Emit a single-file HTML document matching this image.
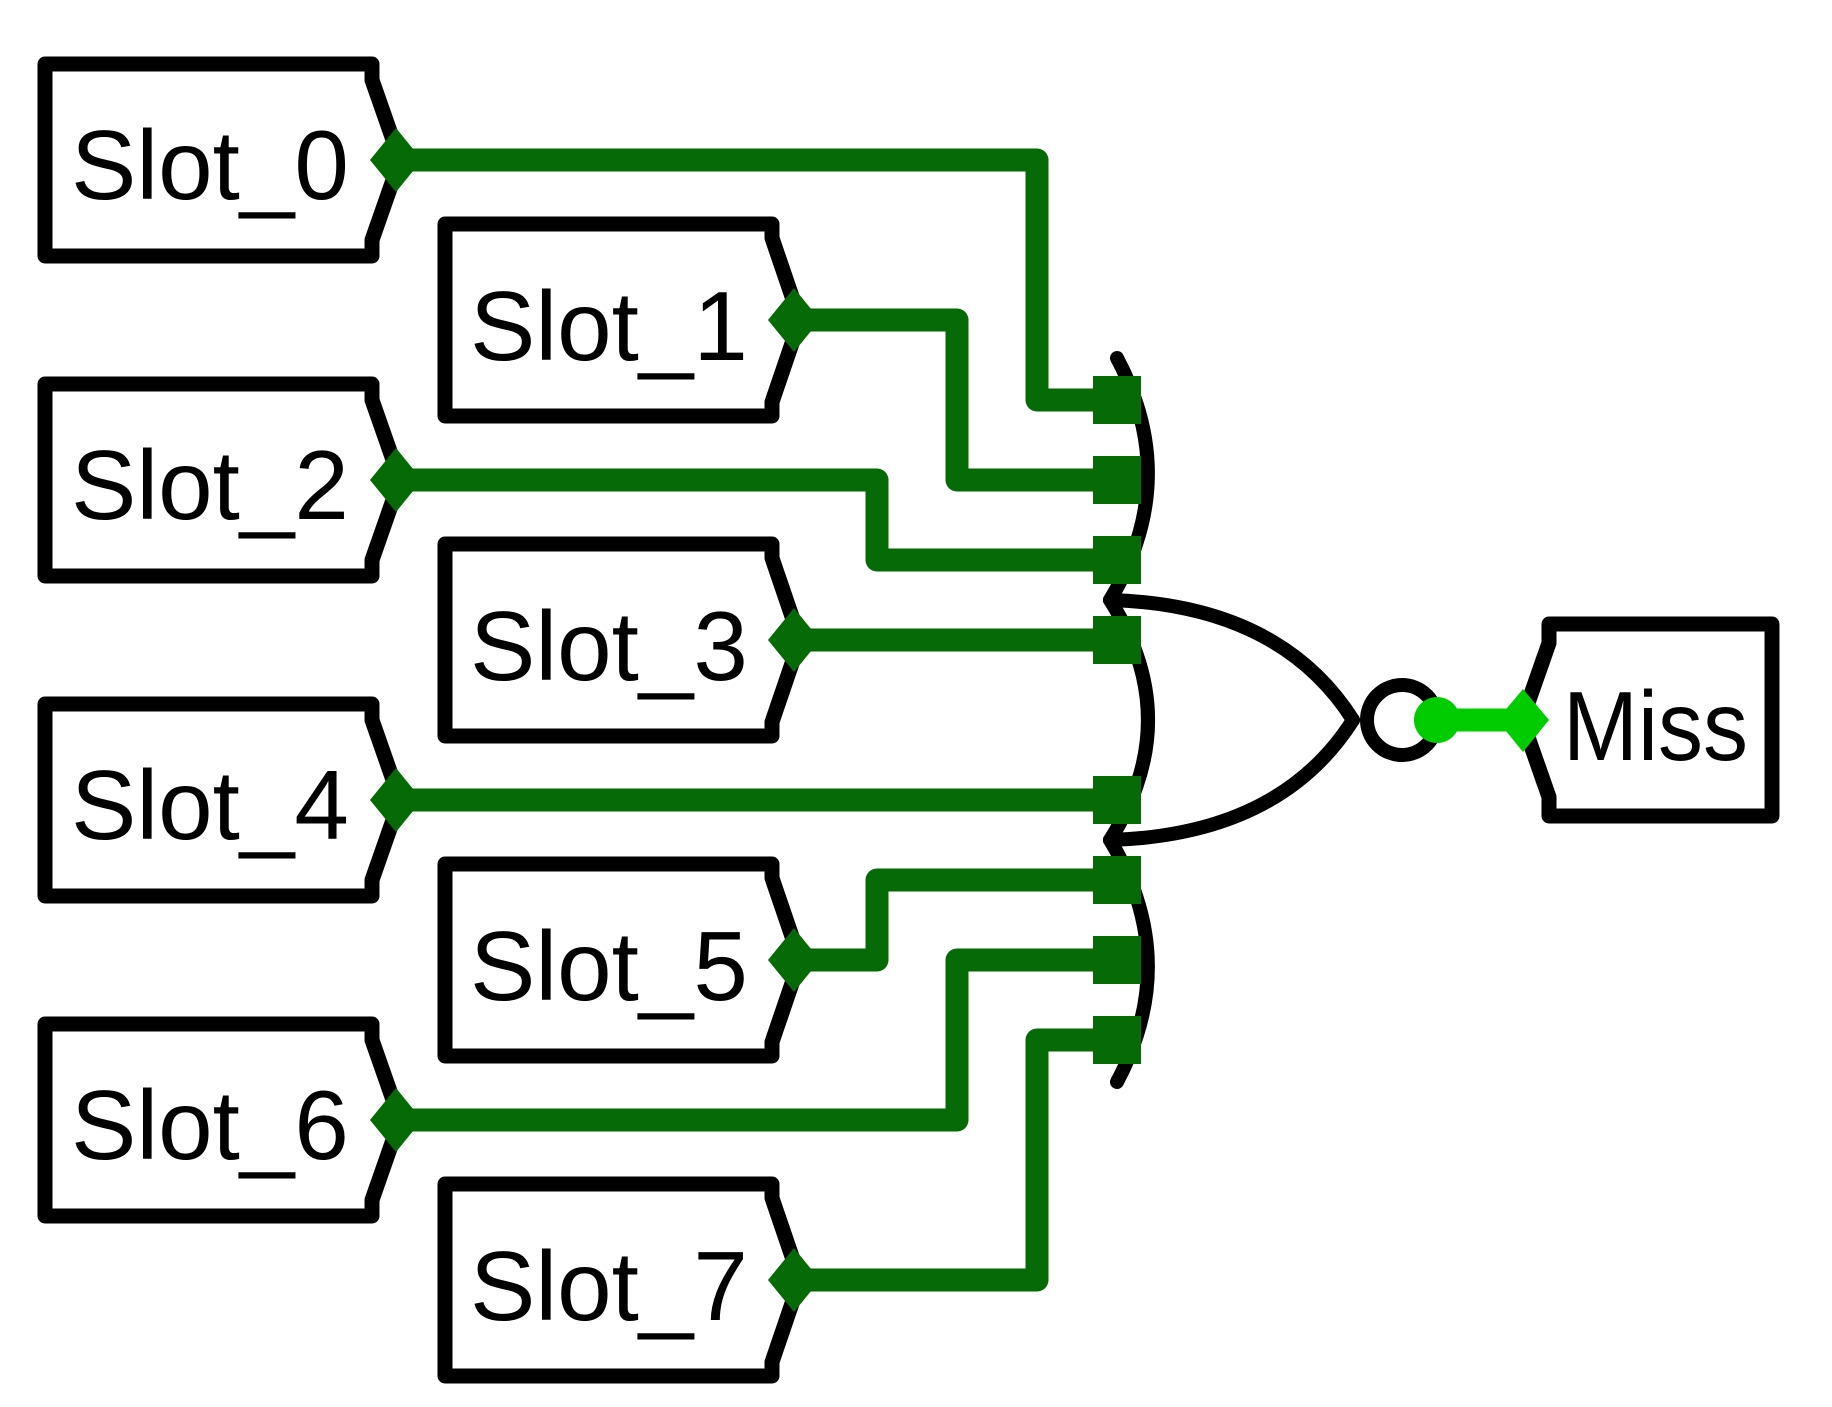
<!DOCTYPE html>
<html><head><meta charset="utf-8"><style>
html,body{margin:0;padding:0;background:#fff;}
svg{display:block;}
text{font-family:"Liberation Sans","DejaVu Sans",sans-serif;font-size:98px;fill:#000;}
</style></head><body>
<svg width="1832" height="1407" viewBox="0 0 1832 1407" xmlns="http://www.w3.org/2000/svg">
<g fill="none" stroke="#066a06" stroke-width="23" stroke-linejoin="round">
<polyline points="396,160 1037,160 1037,400 1100,400"/>
<polyline points="794,320 957,320 957,480 1100,480"/>
<polyline points="396,480 877,480 877,560 1100,560"/>
<polyline points="794,640 1100,640"/>
<polyline points="396,800 1100,800"/>
<polyline points="794,960 877,960 877,880 1100,880"/>
<polyline points="396,1120 957,1120 957,960 1100,960"/>
<polyline points="794,1280 1037,1280 1037,1040 1100,1040"/>
</g>
<g fill="none" stroke="#000" stroke-width="14" stroke-linecap="round" stroke-linejoin="round">
<path d="M1117,358 Q1182,480 1110,600"/>
<path d="M1110,600 Q1186,720 1110,840"/>
<path d="M1110,840 Q1182,960 1117,1082"/>
<path d="M1110,600 Q1280,605 1353,720"/>
<path d="M1110,840 Q1280,835 1353,720"/>
<circle cx="1402" cy="720" r="35"/>
</g>
<g fill="#066a06">
<rect x="1093" y="376" width="48" height="48"/><rect x="1093" y="456" width="48" height="48"/>
<rect x="1093" y="536" width="48" height="48"/><rect x="1093" y="616" width="48" height="48"/>
<rect x="1093" y="776" width="48" height="48"/><rect x="1093" y="856" width="48" height="48"/>
<rect x="1093" y="936" width="48" height="48"/><rect x="1093" y="1016" width="48" height="48"/>
</g>
<g>
<line x1="1437" y1="720" x2="1517" y2="720" stroke="#00cc00" stroke-width="23"/>
<circle cx="1437" cy="720" r="23" fill="#00cc00"/>
</g>
<g fill="none" stroke="#000" stroke-width="15" stroke-linejoin="round">
<path d="M45,64 H372 V80 L400,160 L372,240 V256 H45 Z"/>
<path d="M45,384 H372 V400 L400,480 L372,560 V576 H45 Z"/>
<path d="M45,704 H372 V720 L400,800 L372,880 V896 H45 Z"/>
<path d="M45,1024 H372 V1040 L400,1120 L372,1200 V1216 H45 Z"/>
<path d="M445,224 H772 V238 L800,320 L772,402 V416 H445 Z"/>
<path d="M445,544 H772 V558 L800,640 L772,722 V736 H445 Z"/>
<path d="M445,864 H772 V878 L800,960 L772,1042 V1056 H445 Z"/>
<path d="M445,1184 H772 V1198 L800,1280 L772,1362 V1376 H445 Z"/>
<path d="M1549,624 H1772 V816 H1549 V797 L1522,720 L1549,643 Z"/>
</g>
<g fill="#066a06">
<polygon points="396,128 422,160 396,192 370,160"/><polygon points="396,448 422,480 396,512 370,480"/>
<polygon points="396,768 422,800 396,832 370,800"/><polygon points="396,1088 422,1120 396,1152 370,1120"/>
<polygon points="794,288 820,320 794,352 768,320"/><polygon points="794,608 820,640 794,672 768,640"/>
<polygon points="794,928 820,960 794,992 768,960"/><polygon points="794,1248 820,1280 794,1312 768,1280"/>
</g>
<polygon points="1523,689 1549,720 1523,752 1497,720" fill="#00cc00"/>
<g>
<text x="71" y="199">Slot_0</text>
<text x="470" y="360">Slot_1</text>
<text x="71" y="519">Slot_2</text>
<text x="470" y="680">Slot_3</text>
<text x="71" y="839">Slot_4</text>
<text x="470" y="1000">Slot_5</text>
<text x="71" y="1159">Slot_6</text>
<text x="470" y="1320">Slot_7</text>
<text x="1563" y="760" textLength="185" lengthAdjust="spacingAndGlyphs">Miss</text>
</g>
</svg>
</body></html>
